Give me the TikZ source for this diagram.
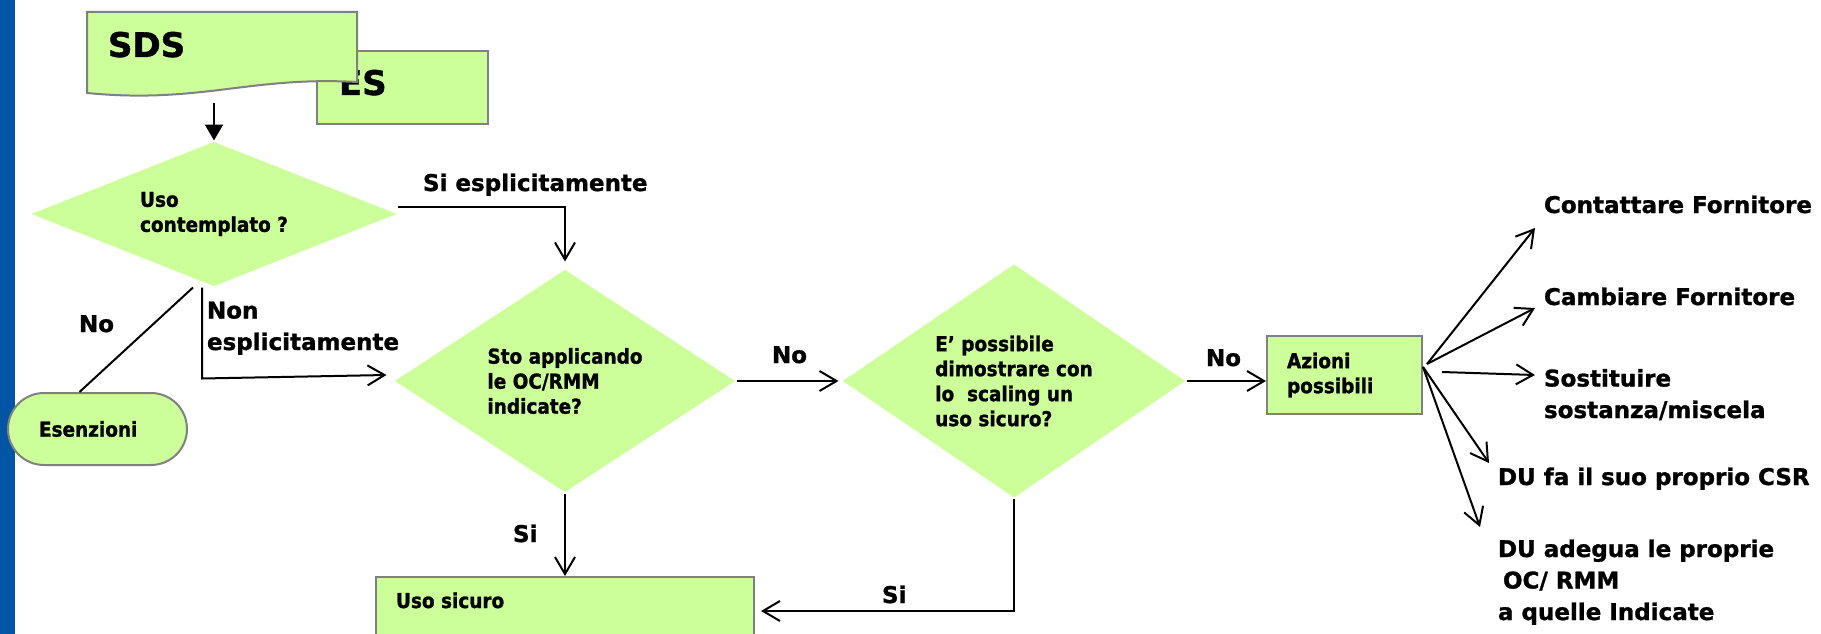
\documentclass[tikz,border=0pt]{standalone}
\usepackage{fontspec}
\setmainfont{DejaVu Sans}[BoldFeatures={FakeBold=1.2}]
\newfontfamily\narrowfont[FakeStretch=0.9,BoldFeatures={FakeBold=1.2}]{DejaVu Sans}
\usetikzlibrary{shapes.geometric,arrows.meta}
\definecolor{boxgreen}{RGB}{204,255,153}
\definecolor{boxgray}{RGB}{128,128,128}
\definecolor{barblue}{RGB}{0,86,164}
\newcommand{\bigtxt}{\fontsize{23}{31.5}\selectfont\bfseries}
\newcommand{\smalltxt}{\narrowfont\fontsize{20.5}{25}\selectfont\bfseries}
\newcommand{\titletxt}{\fontsize{34}{40}\selectfont\bfseries}
\begin{document}
\begin{tikzpicture}[x=1pt,y=-1pt,line width=2pt,
        >={Straight Barb[length=17pt,width=20pt]},
        box/.style={draw=boxgray,fill=boxgreen,line width=2pt,inner sep=0pt},
        choice/.style={diamond,fill=boxgreen,inner sep=0pt,align=left,font=\smalltxt},
        lbl/.style={anchor=base west,inner sep=0pt,align=left,font=\bigtxt}]
    \useasboundingbox (0,0) rectangle (1821,634);
    \clip (0,0) rectangle (1821,634);
    \fill[barblue] (0,0) rectangle (15,634);
    % documents
    \node[box,minimum width=171pt,minimum height=73pt] (es) at (402.5,87.5) {};
    \node[anchor=base west,inner sep=0pt,font=\titletxt] (estext) at (338,95) {ES};
    \filldraw[box] (87,12) -- (357,12) -- (357,82)
        .. controls (250,76) and (200,104) .. (87,93) -- cycle;
    \node[anchor=base west,inner sep=0pt,font=\titletxt] (sdstext) at (107,57) {SDS};
    \coordinate (sdsfoot) at (214,103);
    % decisions
    \node[choice,aspect=2.5,minimum width=366pt,minimum height=145pt] (d1) at (214,214) {Uso\\contemplato ?};
    \node[choice,aspect=1.5,minimum width=341pt,minimum height=223pt] (d2) at (565,381) {Sto applicando\\le OC/RMM\\indicate?};
    \node[choice,aspect=1.45,minimum width=343pt,minimum height=234pt] (d3) at (1014,381) {E’ possibile\\dimostrare con\\lo\ \ scaling un\\uso sicuro?};
    \node[box,rounded corners=36pt,minimum width=179pt,minimum height=72pt,
        font=\smalltxt,text width=117pt,align=left] (esz) at (97.5,429) {Esenzioni};
    \node[box,minimum width=155pt,minimum height=78pt,
        font=\smalltxt,text width=115pt,align=left] (az) at (1344.5,375) {Azioni\\possibili};
    \node[box,minimum width=378pt,minimum height=68pt] (uso) at (565,611) {};
    \node[anchor=base west,inner sep=0pt,font=\smalltxt] (usotext) at (395,608) {Uso sicuro};
    % connectors
    \draw[-{Triangle[length=16pt,width=18pt]}] (sdsfoot) -- (d1.north);
    \draw[->] ([yshift=7pt]d1.east) -| ([yshift=7pt]d2.north);
    \node[lbl] (siesp) at (422,191) {Si esplicitamente};
    \draw ([xshift=-21pt]d1.south) -- ([xshift=-18pt]esz.north);
    \node[lbl] (no1) at (78,332) {No};
    \draw[->] ([xshift=-12pt]d1.south) -- ++(0,91) -- ([shift={(-7pt,6pt)}]d2.west);
    \node[lbl] (nonesp) at (206,350) {Non\\esplicitamente};
    \draw[->] (d2.east) -- ([xshift=-3pt]d3.west);
    \node[lbl] (no2) at (771,363) {No};
    \draw[->] (d3.east) -- (d3.east -| az.west);
    \node[lbl] (no3) at (1205,366) {No};
    \draw[->] (d2.south) -- (uso.north);
    \node[lbl] (si1) at (512,542) {Si};
    \draw[->] (d3.south) |- ([xshift=6pt]uso.east);
    \node[lbl] (si2) at (881,603) {Si};
    % actions
    \coordinate (fan) at (1427,364);
    \coordinate (fanlow) at (1423,367);
    \coordinate (t1) at (1535,228);
    \coordinate (t2) at (1535,308);
    \coordinate (t3) at (1535,375);
    \coordinate (t4) at (1489,463);
    \coordinate (t5) at (1480,527);
    \draw[->] (fan) -- (t1);
    \draw[->] (fan) -- (t2);
    \draw[->] (1442,372) -- (t3);
    \draw[->] (fanlow) -- (t4);
    \draw[->] (fanlow) -- (t5);
    \node[lbl] (contatto) at (1543,213) {Contattare Fornitore};
    \node[lbl] (cambio) at (1543,305) {Cambiare Fornitore};
    \node[lbl] (sostituz) at (1543,418) {Sostituire\\sostanza/miscela};
    \node[lbl] (csr) at (1497,485) {DU fa il suo proprio CSR};
    \node[lbl] (adegua) at (1497,620) {DU adegua le proprie\\\hspace*{5pt}OC/ RMM\\a quelle Indicate};
\end{tikzpicture}
\end{document}
